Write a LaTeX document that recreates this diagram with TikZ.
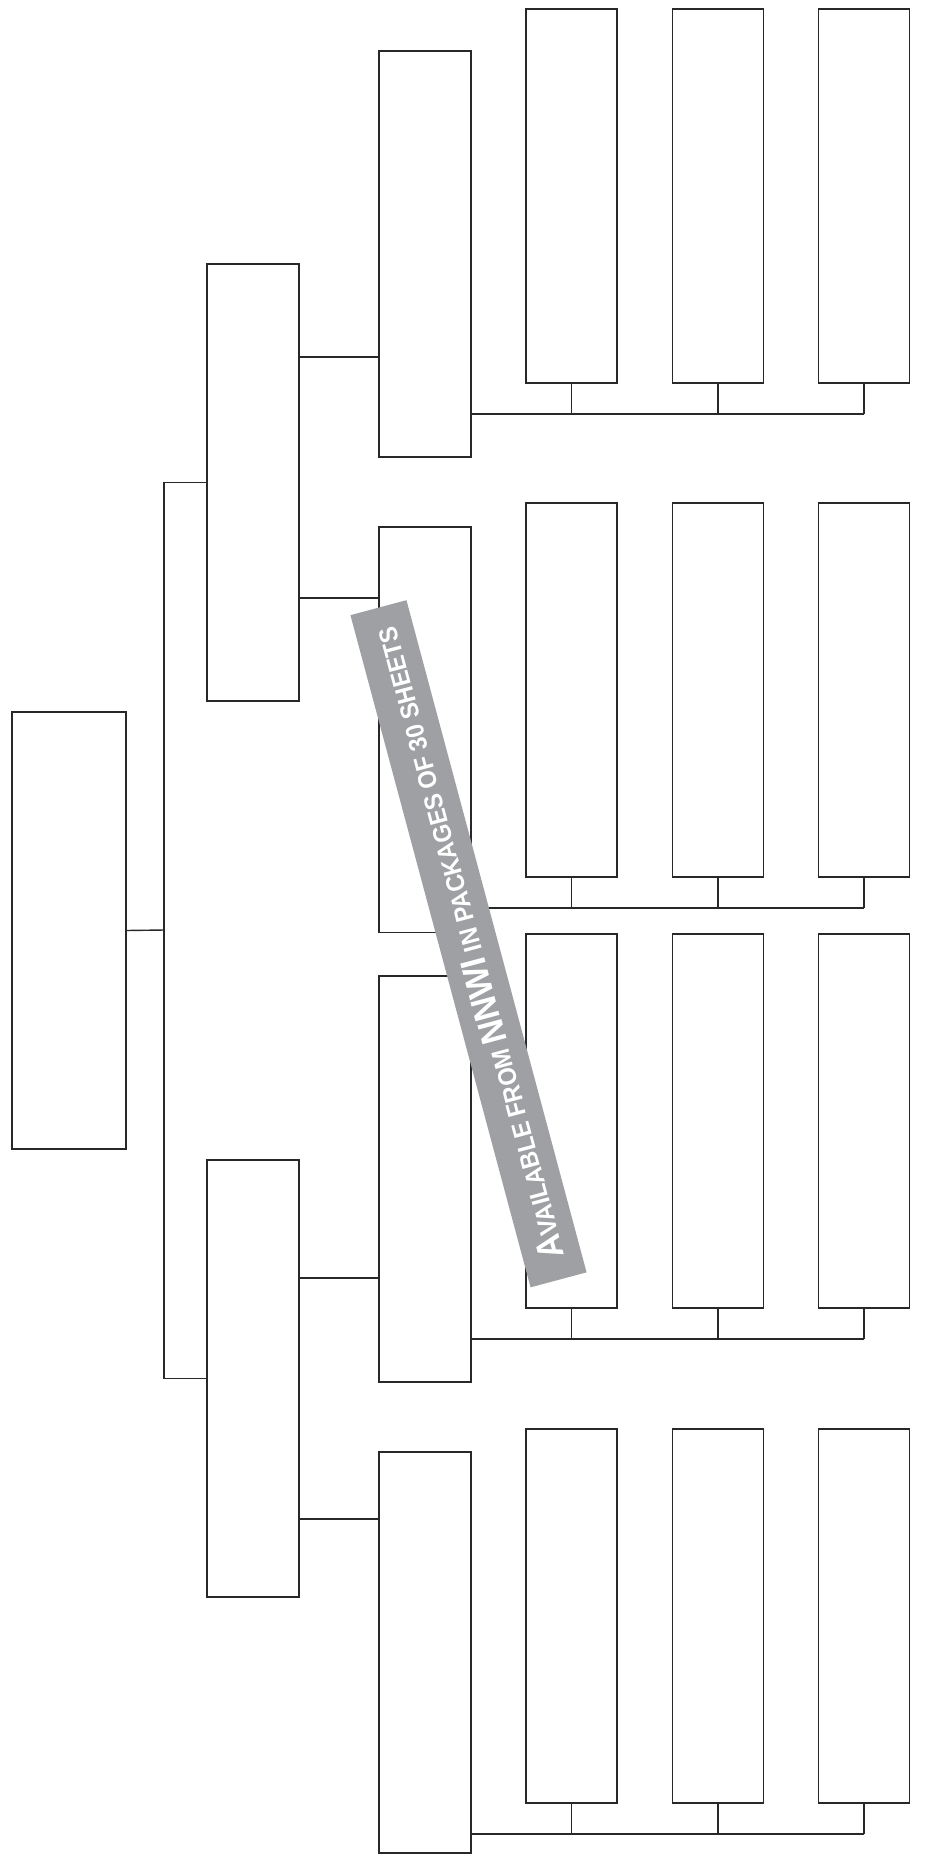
\documentclass[tikz,border=0pt]{standalone}
\usepackage{fontspec}
\newfontfamily\bannerfont[FakeStretch=0.92]{Liberation Sans}
\newcommand{\letragrande}{\fontsize{20.5}{21}\selectfont}
\newcommand{\letrachica}{\fontsize{14.6}{15}\selectfont}
\definecolor{cinta}{RGB}{158,160,163}
\definecolor{linea}{RGB}{40,40,40}
\begin{document}
\begin{tikzpicture}[x=0.02cm,y=-0.02cm,
  caja/.style={draw=linea,line width=1.1pt,inner sep=0pt,outer sep=0pt,minimum width=1.84cm},
  raiz/.style={caja,minimum width=2.28cm,minimum height=8.74cm},
  rama/.style={caja,minimum height=8.74cm},
  sub/.style={caja,minimum height=8.12cm},
  hoja/.style={caja,minimum width=1.82cm,minimum height=7.48cm},
  con/.style={draw=linea,line width=0.8pt},
  aviso/.style={fill=cinta,text=white,font=\bannerfont\bfseries,inner sep=0pt,minimum width=13.92cm,minimum height=1.16cm}]
  \useasboundingbox (0,0) rectangle (924,1856);
  % raiz y ramas
  \node[raiz] (root) at (69,930.5) {};
  \node[rama] (ra) at (253,482.5) {};
  \node[rama] (rb) at (253,1378.5) {};
  % subramas
  \node[sub] (sa) at (425,254) {};
  \node[sub] (sb) at (425,729.5) {};
  \node[sub] (sc) at (425,1179) {};
  \node[sub,minimum height=8.02cm] (sd) at (425,1652.5) {};
  % hojas
  \foreach \g/\y in {1/196,2/690,3/1121,4/1616}
    \foreach \c/\x in {1/571.5,2/718,3/864}
      \node[hoja] (h\g\c) at (\x,\y) {};
  % conectores
  \coordinate (br) at (164,930);
  \draw[con] (root.east) -- (br);
  \draw[con] (ra.west) -| (br);
  \draw[con] (rb.west) -| (br);
  \foreach \p/\s/\d in {ra/sa/-125.5,ra/sb/115.5,rb/sc/-100.5,rb/sd/140.5}
    \draw[con] (\p.east) ++(0,\d) coordinate (k) -- (k -| \s.west);
  \foreach \g/\s in {1/sa,2/sb,3/sc,4/sd} {
    \foreach \c in {1,2,3}
      \draw[con] (h\g\c.south) -- ++(0,31) coordinate (t\g\c);
    \draw[con] (t\g3) -- (t\g3 -| \s.east);
  }
  % cinta
  \node[aviso,rotate=105] (cintax) at (468.5,943.75)
    {\letragrande A\letrachica VAILABLE FROM \letragrande NNWI\letrachica{} IN PACKAGES OF 30 SHEETS};
\end{tikzpicture}
\end{document}
